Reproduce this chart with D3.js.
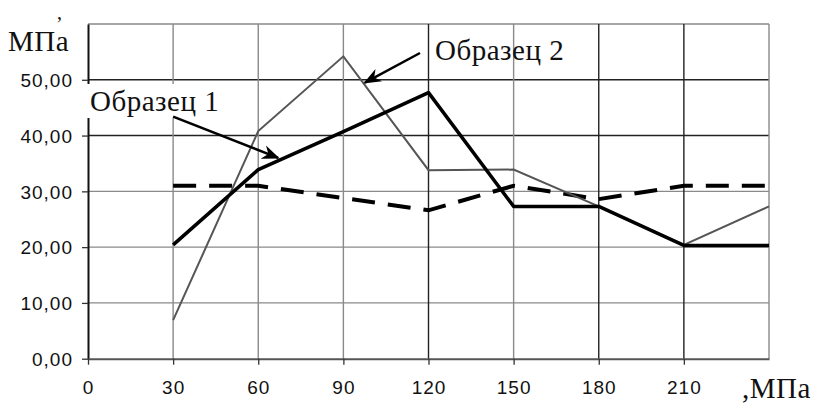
<!DOCTYPE html>
<html>
<head>
<meta charset="utf-8">
<script src="https://cdn.jsdelivr.net/npm/d3@7"></script>
<style>
  body, html { margin: 0; padding: 0; background: #fff; overflow: hidden; }
  svg { display: block; }
  .serif { font-family: "Liberation Serif", "Times New Roman", serif; fill: #111; font-size: 29px; letter-spacing: 0.5px; }
</style>
</head>
<body>
<svg id="chart" width="816" height="403"></svg>
<script>
// data
var pressure = [30, 60, 90, 120, 150, 180, 210, 240];
var sample1 = [20.4, 33.9, 40.7, 47.7, 27.3, 27.3, 20.3, 20.3];
var sample2 = [6.9, 40.8, 54.2, 33.8, 33.9, 27.3, 20.4, 27.3];
var sample3 = [31.0, 31.0, 28.8, 26.6, 31.0, 28.6, 31.0, 31.0];

var xTicks = [0, 30, 60, 90, 120, 150, 180, 210, 240];
var yTicks = [0, 10, 20, 30, 40, 50, 60];
var darkX = [120, 180, 210];
var darkY = [40, 50];

var svg = d3.select('#chart');
var x = d3.scaleLinear().domain([0, 240]).range([88, 769]);
var y = d3.scaleLinear().domain([0, 60]).range([358.7, 24]);

// grid
svg.append('g').selectAll('line').data(yTicks.filter(function(d){ return d > 0; }))
  .enter().append('line')
  .attr('x1', x(0)).attr('x2', x(240))
  .attr('y1', function(d){ return y(d); }).attr('y2', function(d){ return y(d); })
  .attr('stroke', function(d){ return darkY.indexOf(d) >= 0 ? '#222' : '#8a8a8a'; })
  .attr('stroke-width', 1.4);

svg.append('g').selectAll('line').data(xTicks.filter(function(d){ return d > 0; }))
  .enter().append('line')
  .attr('y1', y(0)).attr('y2', y(60))
  .attr('x1', function(d){ return x(d); }).attr('x2', function(d){ return x(d); })
  .attr('stroke', function(d){ return darkX.indexOf(d) >= 0 ? '#222' : '#8a8a8a'; })
  .attr('stroke-width', 1.4);

// axes
var yAxis = d3.axisLeft(y).tickValues(yTicks.slice(0, 6)).tickSize(6).tickSizeOuter(0)
  .tickFormat(function(d){ return d3.format('.2f')(d).replace('.', ','); });
var gy = svg.append('g').attr('transform', 'translate(' + x(0) + ',0)').call(yAxis)
  .attr('font-family', '"Liberation Sans", Arial, sans-serif').attr('font-size', 19);
gy.select('.domain').attr('stroke', '#111').attr('stroke-width', 2);
gy.selectAll('.tick line').attr('stroke', '#333').attr('stroke-width', 1.3);
gy.selectAll('.tick text').attr('x', -15).attr('dy', '0.36em')
  .attr('fill', '#111').style('letter-spacing', '1px');

var xAxis = d3.axisBottom(x).tickValues(xTicks.slice(0, 8)).tickSize(6).tickSizeOuter(0);
var gx = svg.append('g').attr('transform', 'translate(0,' + y(0) + ')').call(xAxis)
  .attr('font-family', '"Liberation Sans", Arial, sans-serif').attr('font-size', 19);
gx.select('.domain').attr('stroke', '#555').attr('stroke-width', 2);
gx.selectAll('.tick line').attr('stroke', '#333').attr('stroke-width', 1.3);
gx.selectAll('.tick text').attr('y', 22).attr('dy', '0.71em')
  .attr('fill', '#111').style('letter-spacing', '1px');

// white box behind the first label
svg.append('rect').attr('x', 84).attr('y', 84).attr('width', 140).attr('height', 34).attr('fill', '#fff');

var line = d3.line().x(function(d, i){ return x(pressure[i]); }).y(function(d){ return y(d); });

svg.append('path').datum(sample3).attr('d', line).attr('fill', 'none')
  .attr('stroke', '#000').attr('stroke-width', 4).attr('stroke-dasharray', '23,13');
svg.append('path').datum(sample2).attr('d', line).attr('fill', 'none')
  .attr('stroke', '#555').attr('stroke-width', 2);
svg.append('path').datum(sample1).attr('d', line).attr('fill', 'none')
  .attr('stroke', '#000').attr('stroke-width', 3.5).attr('stroke-linejoin', 'round');

// annotation arrows
svg.append('defs').append('marker')
  .attr('id', 'arr').attr('viewBox', '0 0 10 10').attr('refX', 9).attr('refY', 5)
  .attr('markerWidth', 7).attr('markerHeight', 7).attr('orient', 'auto')
  .append('path').attr('d', 'M0,1 L10,5 L0,9 L3,5 Z').attr('fill', '#000');

function arrow(x1, y1, x2, y2) {
  svg.append('line').attr('x1', x(x1)).attr('y1', y(y1)).attr('x2', x(x2)).attr('y2', y(y2))
    .attr('stroke', '#000').attr('stroke-width', 2.5).attr('marker-end', 'url(#arr)');
}
arrow(30, 43.4, 67, 36);
arrow(117, 54.8, 97.6, 49.5);

svg.append('text').attr('class', 'serif').attr('x', 90).attr('y', 111).text('Образец 1');
svg.append('text').attr('class', 'serif').attr('x', 435).attr('y', 60).text('Образец 2');

// axis titles
svg.append('text').attr('class', 'serif').attr('x', 8).attr('y', 51).text('МПа');
svg.append('text').attr('class', 'serif').attr('x', 57).attr('y', 19).style('font-size', '20px').text(',');
svg.append('text').attr('class', 'serif').attr('x', 742).attr('y', 398).text(',МПа');
</script>
</body>
</html>
